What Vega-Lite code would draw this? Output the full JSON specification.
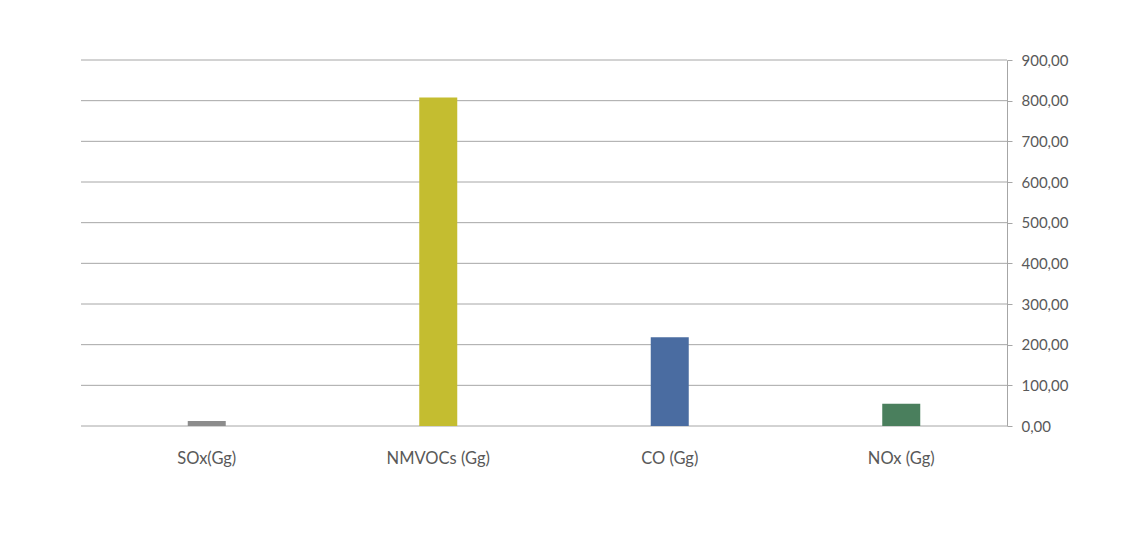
{
  "$schema": "https://vega.github.io/schema/vega-lite/v6.json",
  "autosize": "none",
  "width": 926,
  "height": 366,
  "padding": {"left": 81, "top": 60, "right": 128, "bottom": 117},
  "background": "white",
  "datasets": {
    "emissions": [
      {"pollutant": "SOx(Gg)", "value": 12},
      {"pollutant": "NMVOCs (Gg)", "value": 808},
      {"pollutant": "CO (Gg)", "value": 218},
      {"pollutant": "NOx (Gg)", "value": 55}
    ],
    "gridlines": [
      {"level": 0}, {"level": 100}, {"level": 200}, {"level": 300}, {"level": 400},
      {"level": 500}, {"level": 600}, {"level": 700}, {"level": 800}, {"level": 900}
    ]
  },
  "layer": [
    {
      "data": {"name": "gridlines"},
      "mark": {"type": "rule", "color": "#a6a6a6", "strokeWidth": 1},
      "encoding": {
        "y": {"field": "level", "type": "quantitative"}
      }
    },
    {
      "data": {"name": "emissions"},
      "mark": {"type": "bar", "width": 38},
      "encoding": {
        "x": {
          "field": "pollutant", "type": "nominal", "sort": null,
          "scale": {"paddingInner": 0, "paddingOuter": 0, "range": [10, 936]},
          "axis": {"title": null, "labelAngle": 0, "ticks": false, "domain": false,
                   "labelPadding": 24, "labelFontSize": 16.5, "labelColor": "#595959", "labelFont": "Lato"}
        },
        "y": {"field": "value", "type": "quantitative"},
        "color": {
          "field": "pollutant", "type": "nominal", "sort": null, "legend": null,
          "scale": {"domain": ["SOx(Gg)", "NMVOCs (Gg)", "CO (Gg)", "NOx (Gg)"],
                    "range": ["#8c8c8c", "#c4bd30", "#4a6ca1", "#4a7f5d"]}
        }
      }
    }
  ],
  "encoding": {
    "y": {
      "type": "quantitative",
      "scale": {"domain": [0, 900], "nice": false},
      "axis": {"orient": "right", "title": null, "values": [0,100,200,300,400,500,600,700,800,900],
               "labelExpr": "replace(format(datum.value, '.2f'), '.', ',')",
               "grid": false,
               "domain": true, "domainColor": "#a6a6a6", "tickColor": "#a6a6a6", "tickSize": 5,
               "labelPadding": 9, "labelFontSize": 15, "labelColor": "#595959", "labelFont": "Lato"}
    }
  },
  "config": {"view": {"stroke": null}}
}
